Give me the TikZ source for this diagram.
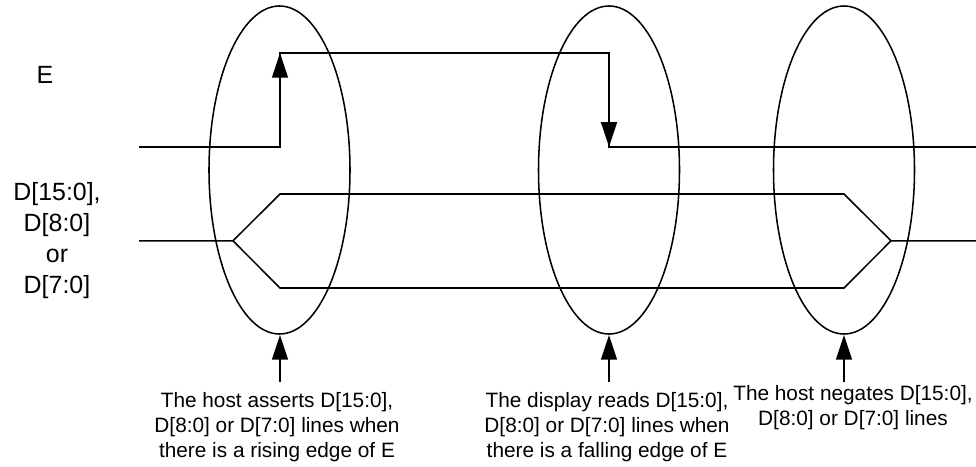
\documentclass[tikz,border=0pt]{standalone}
\usepackage{fontspec}
\setmainfont{Liberation Sans}
\usetikzlibrary{arrows.meta}
\tikzset{
 sig/.style={line width=1.15pt,black},
 ell/.style={line width=1.15pt,black},
 head/.style={-{Triangle[length=18.5pt,width=12pt]},line width=1.15pt},
 bigtxt/.style={font=\fontsize{18.7pt}{23.3pt}\selectfont,align=center,inner sep=0},
 captxt/.style={font=\fontsize{15.6pt}{18.7pt}\selectfont,align=center,inner sep=0,anchor=north},
}
\begin{document}
\begin{tikzpicture}[x=0.75pt,y=-0.75pt]
\useasboundingbox (0,0) rectangle (976,467);
\draw[ell] (279.5,170) ellipse [x radius=70.5,y radius=164];
\draw[ell] (609,170) ellipse [x radius=70.5,y radius=164];
\draw[ell] (844,170) ellipse [x radius=70.5,y radius=164];
\node[bigtxt] (e) at (45,75) {E};
\node[bigtxt] (d) at (57,240.5) {D[15:0],\\D[8:0]\\or\\D[7:0]};
\coordinate (e0) at (139,146.8);
\coordinate (e1) at (280,146.8);
\coordinate (e2) at (280,53);
\coordinate (e3) at (609,53);
\coordinate (e4) at (609,146.8);
\coordinate (e5) at (976,146.8);
\draw[sig] (e0) -- (e1) -- (e2) -- (e3) -- (e4) -- (e5);
\coordinate (ea) at (280,100);
\draw[head] (ea) -- (e2);
\coordinate (eb) at (609,100);
\draw[head] (eb) -- (e4);
\coordinate (d0) at (139,240.8);
\coordinate (d1) at (233,240.8);
\coordinate (d2) at (280,194);
\coordinate (d3) at (844,194);
\coordinate (d4) at (891,240.8);
\coordinate (d5) at (976,240.8);
\coordinate (d6) at (844,288);
\coordinate (d7) at (280,288);
\draw[sig] (d0) -- (d1) -- (d2) -- (d3) -- (d4) -- (d5);
\draw[sig] (d1) -- (d7) -- (d6) -- (d4);
\node[captxt] (c1) at (277,392) {The host asserts D[15:0],\\D[8:0] or D[7:0] lines when\\there is a rising edge of E};
\node[captxt] (c2) at (607,392) {The display reads D[15:0],\\D[8:0] or D[7:0] lines when\\there is a falling edge of E};
\node[captxt] (c3) at (853,385) {The host negates D[15:0],\\D[8:0] or D[7:0] lines};
\coordinate (a1) at (280,382);
\coordinate (t1) at (280,335);
\coordinate (a2) at (609,382);
\coordinate (t2) at (609,335);
\coordinate (a3) at (844,382);
\coordinate (t3) at (844,335);
\draw[head] (a1) -- (t1);
\draw[head] (a2) -- (t2);
\draw[head] (a3) -- (t3);
\end{tikzpicture}
\end{document}
